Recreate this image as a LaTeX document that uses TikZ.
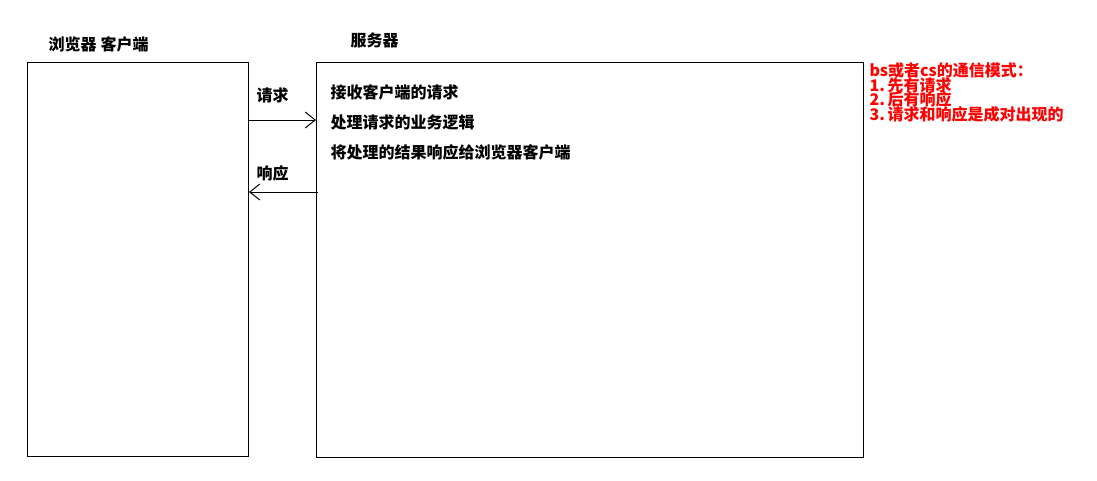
\documentclass[tikz,border=0pt]{standalone}
\usepackage{fontspec}
\setmainfont{Noto Sans CJK SC}
\usetikzlibrary{arrows.meta}
\newcommand{\px}{0.75pt}

\begin{document}
\begin{tikzpicture}[x=0.75pt, y=-0.75pt, line width=0.75pt,
  box/.style={draw, anchor=north west, inner sep=0pt},
  txt/.style={anchor=west, inner sep=0pt, font=\fontsize{12pt}{13pt}\selectfont\bfseries},
  note/.style={anchor=west, inner sep=0pt, text=red, font=\fontsize{12pt}{13pt}\selectfont\bfseries},
  arr/.style={-{Straight Barb[length=7.5pt, width=12pt]}}]
\useasboundingbox (0,0) rectangle (1097,480);

% 两个方框
\node[box, minimum width=221*\px, minimum height=394*\px] (client) at (27,62) {}; % 客户端
\node[box, minimum width=547*\px, minimum height=395*\px] (server) at (316,62) {}; % 服务器

% 标题
\node[txt] (clientlbl) at (48,44) {浏览器\hspace{3pt}客户端};
\node[txt] (serverlbl) at (350,40) {服务器};

% 服务器的工作
\node[txt] (s1) at (330,92) {接收客户端的请求};
\node[txt] (s2) at (330,122) {处理请求的业务逻辑};
\node[txt] (s3) at (330,152) {将处理的结果响应给浏览器客户端};

% 请求和响应
\node[txt] (reqlbl) at (256,95) {请求};
\draw[arr] (client.east |- 0,120) -- (server.west |- 0,120); % 请求
\node[txt] (resplbl) at (256,173) {响应};
\draw[arr] ([xshift=2*\px]server.west |- 0,192) -- (client.east |- 0,192); % 响应

% 说明
\node[note] (n0) at (869,70) {bs或者cs的通信模式：};
\node[note] (n1) at (869,85) {1.\,先有请求};
\node[note] (n2) at (869,99) {2.\,后有响应};
\node[note] (n3) at (869,114) {3.\,请求和响应是成对出现的};

\end{tikzpicture}
\end{document}
